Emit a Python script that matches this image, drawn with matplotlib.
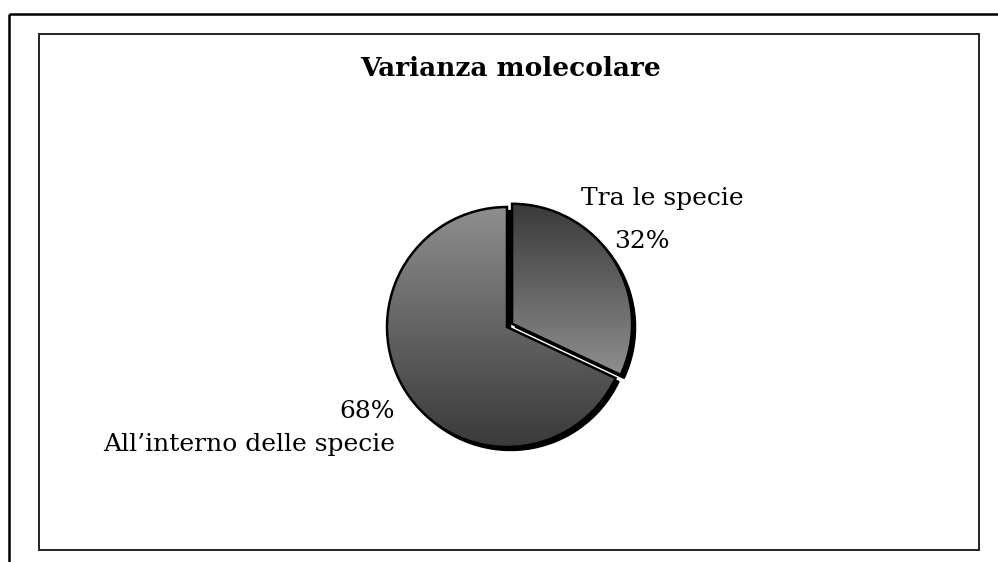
import numpy as np
import matplotlib
matplotlib.use("Agg")
import matplotlib.pyplot as plt
from matplotlib.patches import Rectangle

# Data
labels = ["Tra le specie", "All\u2019interno delle specie"]
values = [32, 68]
pct_labels = ["32%", "68%"]
title = "Varianza molecolare"

W, H = 998, 562
fig = plt.figure(figsize=(W / 100, H / 100), dpi=100)
ax = fig.add_axes([0, 0, 1, 1])

serif = ["DejaVu Serif"]

cx, cy, r = 507, H - 327, 120
explode = [6, 0]  # data units (pie offsets scale with radius=1 by default)

# shadow
shadow, _ = ax.pie(values, radius=r, center=(cx + 3.5, cy - 3.5), explode=explode,
                   startangle=90, counterclock=False, frame=True,
                   wedgeprops=dict(fc="black", ec="black", lw=1, zorder=0.5))
wedges, _ = ax.pie(values, radius=r, center=(cx, cy), explode=explode,
                   startangle=90, counterclock=False, frame=True,
                   wedgeprops=dict(fc="none", ec="black", lw=1.8, zorder=2))
ax.set_xlim(0, W)
ax.set_ylim(0, H)
ax.set_aspect("equal")
ax.axis("off")

light, dark = 0x8e / 255, 0x3a / 255
grads = [(dark, light), (light, dark)]  # (top, bottom) grey levels
for w, (top, bot) in zip(wedges, grads):
    bb = w.get_path().get_extents(w.get_patch_transform())
    g = np.linspace(top, bot, 256).reshape(-1, 1)
    img = np.dstack([g, g, g])
    im = ax.imshow(img, extent=(bb.x0, bb.x1, bb.y0, bb.y1), origin="upper",
                   aspect="auto", zorder=1.5, interpolation="bilinear")
    im.set_clip_path(w)
ax.set_xlim(0, W)
ax.set_ylim(0, H)

# outer frame (only top and left visible)
ax.plot([9, W], [H - 14, H - 14], color="black", lw=1.8, solid_capstyle="butt")
ax.plot([9, 9], [H - 14, 0], color="black", lw=1.8, solid_capstyle="butt")
# inner plot area
ax.add_patch(Rectangle((39, H - 550), 940, 516, fill=False, ec="#222222", lw=1.4))

ax.text(511, H - 68, title, ha="center", va="center", fontsize=19,
        fontweight="bold", family=serif)

ax.text(662, H - 198, labels[0], ha="center", va="center", fontsize=18, family=serif)
ax.text(642, H - 242, pct_labels[0], ha="center", va="center", fontsize=18, family=serif)
ax.text(395, H - 412, pct_labels[1], ha="right", va="center", fontsize=18, family=serif)
ax.text(395, H - 444, labels[1], ha="right", va="center", fontsize=18, family=serif)

fig.savefig("out.png", dpi=100)
